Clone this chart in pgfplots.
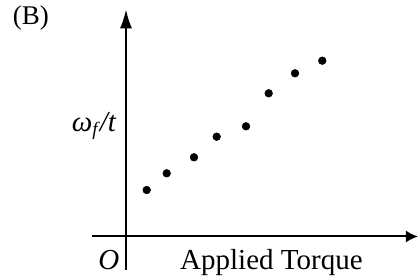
\documentclass[border=0pt]{standalone}
\usepackage{fontspec}
\setmainfont{Liberation Serif}
\usepackage{pgfplots}
\pgfplotsset{compat=1.18}
\usetikzlibrary{arrows.meta}
\begin{document}
\begin{tikzpicture}
\begin{axis}[
  x=1bp, y=1bp,
  xmin=-34.3, xmax=292, ymin=-33.5, ymax=227.2,
  axis lines=middle,
  xtick=\empty, ytick=\empty,
  clip=false,
  x axis line style={line width=2bp,-{Latex[length=12bp,width=12bp]}},
  y axis line style={line width=2bp,-{Latex[length=19bp,width=12bp]}},
]
\path[use as bounding box] (axis cs:-126,-40.5) rectangle (axis cs:293,236.5);
\addplot[only marks, mark=*, mark size=3.9bp, black] coordinates {
(20.7,46.5) (40.7,63.2) (68,79.2) (90.7,99.8) (120,110.2) (142.7,143.2) (169,163.2) (196.3,175.8)
};
\node[anchor=base west, inner sep=0pt, font=\fontsize{27bp}{32bp}\selectfont] at (axis cs:-113.3,212.5) {(B)};
\node[anchor=base west, inner sep=0pt, font=\fontsize{29bp}{34bp}\selectfont] at (axis cs:-54.3,104.8) {\textit{ω}\raisebox{-0.3ex}{\fontsize{19bp}{22bp}\selectfont\textit{f}}\textit{/t}};
\node[anchor=base west, inner sep=0pt, font=\fontsize{29bp}{34bp}\selectfont] at (axis cs:-27.7,-32.5) {\textit{O}};
\node[anchor=base west, inner sep=0pt, font=\fontsize{29bp}{34bp}\selectfont] at (axis cs:54,-32.5) {Applied Torque};
\end{axis}
\end{tikzpicture}
\end{document}
